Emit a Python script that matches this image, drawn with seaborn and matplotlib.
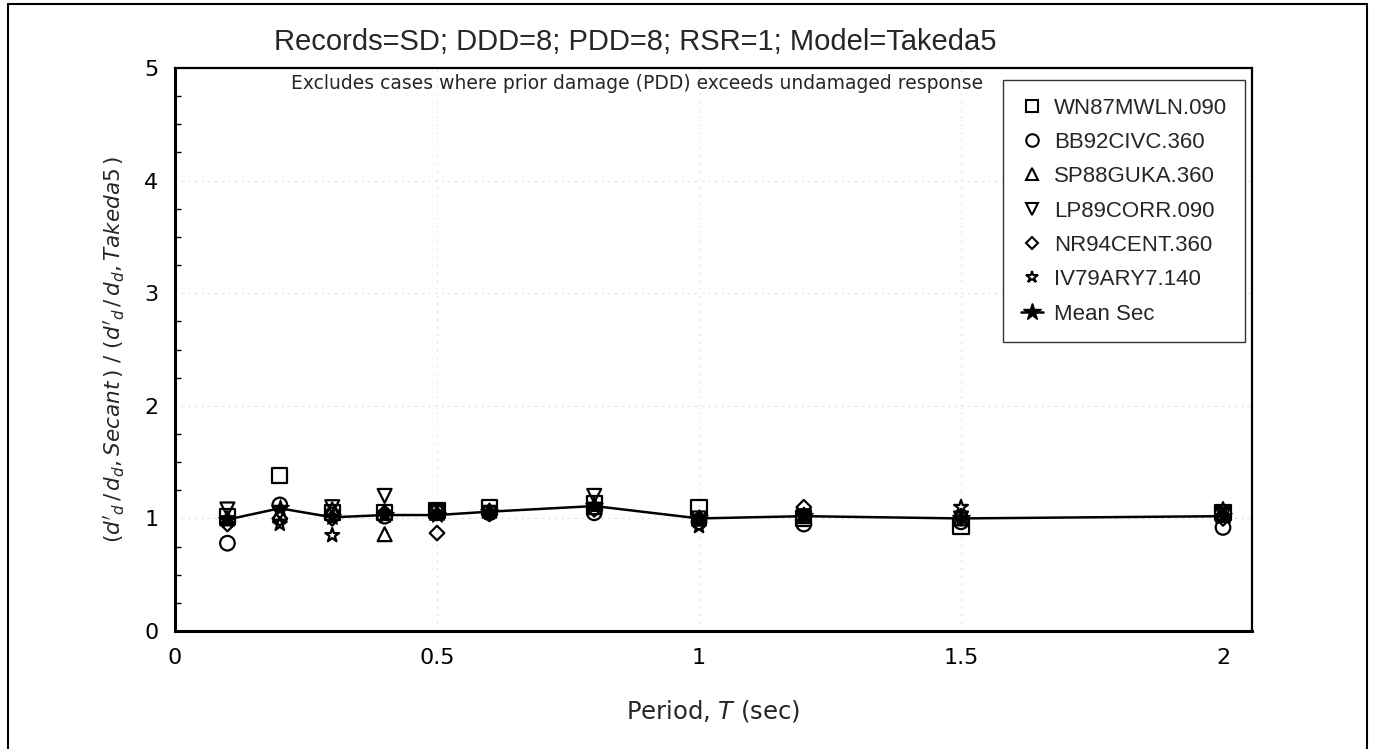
import pandas as pd
import seaborn as sns
import matplotlib.pyplot as plt
from matplotlib.lines import Line2D

# --- data ---
periods = [0.1, 0.2, 0.3, 0.4, 0.5, 0.6, 0.8, 1.0, 1.2, 1.5, 2.0]
records = ["WN87MWLN.090", "BB92CIVC.360", "SP88GUKA.360",
           "LP89CORR.090", "NR94CENT.360", "IV79ARY7.140"]
wn87 = [1.02, 1.38, 1.05, 1.05, 1.07, 1.10, 1.13, 1.10, 1.00, 0.93, 1.05]
bb92 = [0.78, 1.12, 1.03, 1.02, 1.05, 1.05, 1.05, 0.97, 0.95, 0.97, 0.92]
sp88 = [1.00, 1.05, 1.08, 0.86, 1.05, 1.07, 1.10, 1.00, 1.02, 1.00, 1.03]
lp89 = [1.08, 1.05, 1.10, 1.20, 1.06, 1.05, 1.20, 1.00, 1.02, 1.00, 1.03]
nr94 = [0.95, 1.00, 1.00, 1.05, 0.87, 1.04, 1.08, 1.00, 1.10, 1.02, 1.00]
iv79 = [1.00, 0.95, 0.85, 1.04, 1.04, 1.05, 1.12, 0.93, 1.03, 1.10, 1.08]
mean_sec = [0.99, 1.09, 1.01, 1.03, 1.03, 1.06, 1.11, 1.00, 1.02, 1.00, 1.02]

series = [wn87, bb92, sp88, lp89, nr94, iv79]
marker_map = {"WN87MWLN.090": "s", "BB92CIVC.360": "o", "SP88GUKA.360": "^",
              "LP89CORR.090": "v", "NR94CENT.360": "D", "IV79ARY7.140": "*"}
size_map = {"s": 120, "o": 110, "^": 100, "v": 100, "D": 55, "*": 110}

df = pd.DataFrame({
    "period": periods * len(records),
    "ratio": sum(series, []),
    "record": [r for r in records for _ in periods],
})
df_mean = pd.DataFrame({"period": periods, "ratio": mean_sec})

# --- style ---
sns.set_theme(style="white")
plt.rcParams["font.family"] = ["Liberation Sans", "DejaVu Sans"]
plt.rcParams["mathtext.fontset"] = "dejavusans"

fig = plt.figure(figsize=(13.77, 7.49), dpi=100)
# axes: x from 175 px, y from 68 px (top) to 631 px (bottom)
ax = fig.add_axes([0.1271, 0.1575, 0.782, 0.7517])

# faint dotted grid
for yv in [1, 2, 3, 4]:
    ax.axhline(yv, color="#c4c4c4", ls=(0, (1, 5)), lw=0.8, zorder=0)
for xv in [0.5, 1.0, 1.5]:
    ax.axvline(xv, color="#cfcfcf", ls=(0, (1, 6)), lw=0.8, zorder=0)

sns.lineplot(data=df_mean, x="period", y="ratio", color="black", lw=1.8,
             marker="*", markersize=13, markeredgecolor="black", ax=ax, zorder=3)

for rec in records:
    m = marker_map[rec]
    sub = df[df["record"] == rec]
    sns.scatterplot(data=sub, x="period", y="ratio", marker=m, s=size_map[m],
                    facecolor="none", edgecolor="black", linewidth=1.6,
                    ax=ax, zorder=4, legend=False)

ax.set_xlim(0, 2.055)
ax.set_ylim(0, 5)
ax.set_xticks([0, 0.5, 1, 1.5, 2])
ax.set_xticklabels(["0", "0.5", "1", "1.5", "2"])
ax.set_yticks([0, 1, 2, 3, 4, 5])
ax.set_yticks([i * 0.25 for i in range(21)], minor=True)
ax.tick_params(axis="both", which="major", direction="in", length=12, width=1.5,
               labelsize=16, pad=12, color="black", labelcolor="black")
ax.tick_params(axis="y", which="minor", direction="in", length=4, width=1,
               color="black", left=True)
for lab in ax.get_xticklabels() + ax.get_yticklabels():
    lab.set_family("DejaVu Sans")
for s in ax.spines.values():
    s.set_color("black")
    s.set_linewidth(1.6)
ax.spines["left"].set_linewidth(2.2)
ax.spines["bottom"].set_linewidth(2.2)

ax.set_xlabel("Period, $\\mathit{T}$ (sec)", fontsize=17.5, labelpad=22,
              family="DejaVu Sans")
ax.set_ylabel(r"$(d'_d\,/\,d_d, Secant\,)\ /\ (d'_d\,/\,d_d, Takeda5\,)$",
              fontsize=15.5, labelpad=12)

ax.text(0.429, 0.972, "Excludes cases where prior damage (PDD) exceeds undamaged response",
        transform=ax.transAxes, ha="center", va="center", fontsize=13.5,
        family="DejaVu Sans")

fig.text(635 / 1377, 1 - 42 / 749, "Records=SD; DDD=8; PDD=8; RSR=1; Model=Takeda5",
         ha="center", va="center", fontsize=21)

# legend
handles = [Line2D([], [], ls="none", marker=marker_map[r],
                  markersize=9 if marker_map[r] != "D" else 6.5,
                  markerfacecolor="none", markeredgecolor="black", markeredgewidth=1.5)
           for r in records]
handles.append(Line2D([], [], color="black", lw=1.8, marker="*", markersize=13,
                      markerfacecolor="black", markeredgecolor="black"))
leg = ax.legend(handles, records + ["Mean Sec"], loc="upper right",
                bbox_to_anchor=(0.9935, 0.979), borderaxespad=0, fontsize=16,
                frameon=True, fancybox=False, handlelength=1.0, handletextpad=0.5,
                labelspacing=0.6, borderpad=0.8)
leg.get_frame().set_edgecolor("black")
leg.get_frame().set_linewidth(1.0)
leg.set_zorder(5)

# outer border of the page (left, top, right)
for xs, ys in [([0.006, 0.006], [0.0, 0.994]), ([0.006, 0.993], [0.994, 0.994]),
               ([0.993, 0.993], [0.994, 0.0])]:
    fig.add_artist(Line2D(xs, ys, transform=fig.transFigure, color="black", lw=1.5))

fig.savefig("out.png", dpi=100)
